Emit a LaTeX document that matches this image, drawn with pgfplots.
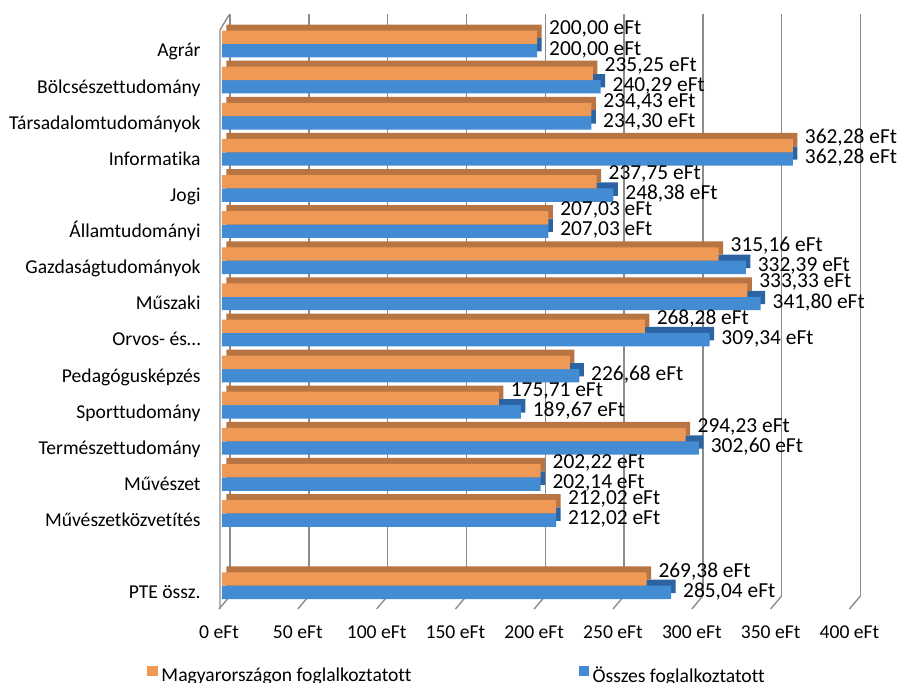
\documentclass[border=0pt]{standalone}
\usepackage{fontspec}
\setmainfont{Carlito}[Ligatures=NoCommon]
\usepackage{pgfplots}
\usepackage{pgfplotstable}
\pgfplotsset{compat=1.18}
\definecolor{orF}{RGB}{239,153,86}
\definecolor{orD}{RGB}{184,116,66}
\definecolor{blF}{RGB}{67,139,211}
\definecolor{blD}{RGB}{44,99,162}
\definecolor{gridc}{RGB}{140,140,140}

\pgfplotstableread[col sep=semicolon]{
y;mo;mlab;os;olab
15;200.00;200,00 eFt;200.00;200,00 eFt
14;235.25;235,25 eFt;240.29;240,29 eFt
13;234.43;234,43 eFt;234.30;234,30 eFt
12;362.28;362,28 eFt;362.28;362,28 eFt
11;237.75;237,75 eFt;248.38;248,38 eFt
10;207.03;207,03 eFt;207.03;207,03 eFt
9;315.16;315,16 eFt;332.39;332,39 eFt
8;333.33;333,33 eFt;341.80;341,80 eFt
7;268.28;268,28 eFt;309.34;309,34 eFt
6;220.80;;226.68;226,68 eFt
5;175.71;175,71 eFt;189.67;189,67 eFt
4;294.23;294,23 eFt;302.60;302,60 eFt
3;202.22;202,22 eFt;202.14;202,14 eFt
2;212.02;212,02 eFt;212.02;212,02 eFt
0;269.38;269,38 eFt;285.04;285,04 eFt
}\data

\begin{document}
\begin{tikzpicture}
\begin{axis}[name=ax, scale only axis, width=315.2pt, height=291pt,
  xmin=0, xmax=400, ymin=-0.645, ymax=15.47,
  clip=false,
  bar width=6.7pt,
  axis line style={draw=none}, tick style={draw=none},
  font=\fontsize{9.8}{11.8}\selectfont,
  xtick={0,50,...,400},
  xticklabels={0 eFt,50 eFt,100 eFt,150 eFt,200 eFt,250 eFt,300 eFt,350 eFt,400 eFt},
  xticklabel style={anchor=base, yshift=-14.5pt, xshift=-1.5pt},
  ytick={0,2,3,...,15},
  yticklabels={PTE össz.,Művészetközvetítés,Művészet,Természettudomány,Sporttudomány,Pedagógusképzés,Orvos- és…,Műszaki,Gazdaságtudományok,Államtudományi,Jogi,Informatika,Társadalomtudományok,Bölcsészettudomány,Agrár},
  yticklabel style={anchor=base east, yshift=-6.5pt, xshift=-7.2pt},
  xmajorgrids,
  major grid style={gridc, line width=0.7pt, xshift=4pt, yshift=6.5pt},
  legend columns=2,
  legend style={draw=none, fill=none, inner sep=0pt, outer sep=0pt,
    at={(rel axis cs:-0.1185,-0.1148)}, anchor=west,
    font=\fontsize{9.8}{11.8}\selectfont,
    /tikz/column 2/.style={column sep=81.6pt}},
]
% floor diagonals
\pgfplotsinvokeforeach{0,50,...,400}{
  \draw[gridc, line width=0.7pt] ([xshift=-1.5pt]axis cs:#1,-0.645) -- ++(5.5pt,6.5pt);
}
% left wall
\draw[gridc, line width=0.7pt] ([xshift=-1pt]axis cs:0,-0.645) -- ++(0pt,289.5pt) -- ++(4.5pt,7.5pt);

\addplot[xbar, forget plot, fill=blD, draw=none, bar shift=-3.35pt, xshift=2.25pt, yshift=3pt]
  table[x=os, y=y]{\data};
\addplot[xbar, forget plot, fill=blF, draw=none, bar shift=-3.35pt,
  nodes near coords, point meta=explicit symbolic,
  nodes near coords style={anchor=west, xshift=2.45pt, yshift=-2.8pt, font=\fontsize{10.7}{12}\selectfont, text=black}]
  table[x=os, y=y, meta=olab]{\data};
\addplot[xbar, forget plot, fill=orD, draw=none, bar shift=3.35pt, xshift=2.25pt, yshift=3pt]
  table[x=mo, y=y]{\data};
\addplot[xbar, forget plot, fill=orF, draw=none, bar shift=3.35pt,
  nodes near coords, point meta=explicit symbolic,
  nodes near coords style={anchor=west, xshift=2.45pt, yshift=7.3pt, font=\fontsize{10.7}{12}\selectfont, text=black}]
  table[x=mo, y=y, meta=mlab]{\data};

\addlegendimage{legend image code/.code={\fill[orF] (0pt,0pt) rectangle (4.7pt,4.7pt);}}
\addlegendentry{Magyarországon foglalkoztatott}
\addlegendimage{legend image code/.code={\fill[blF] (0pt,0pt) rectangle (4.7pt,4.7pt);}}
\addlegendentry{Összes foglalkoztatott}
\end{axis}
\pgfresetboundingbox
\path[use as bounding box] (ax.south west) ++(-111pt,-36.5pt) rectangle ++(448.5pt,341pt);
\end{tikzpicture}
\end{document}
